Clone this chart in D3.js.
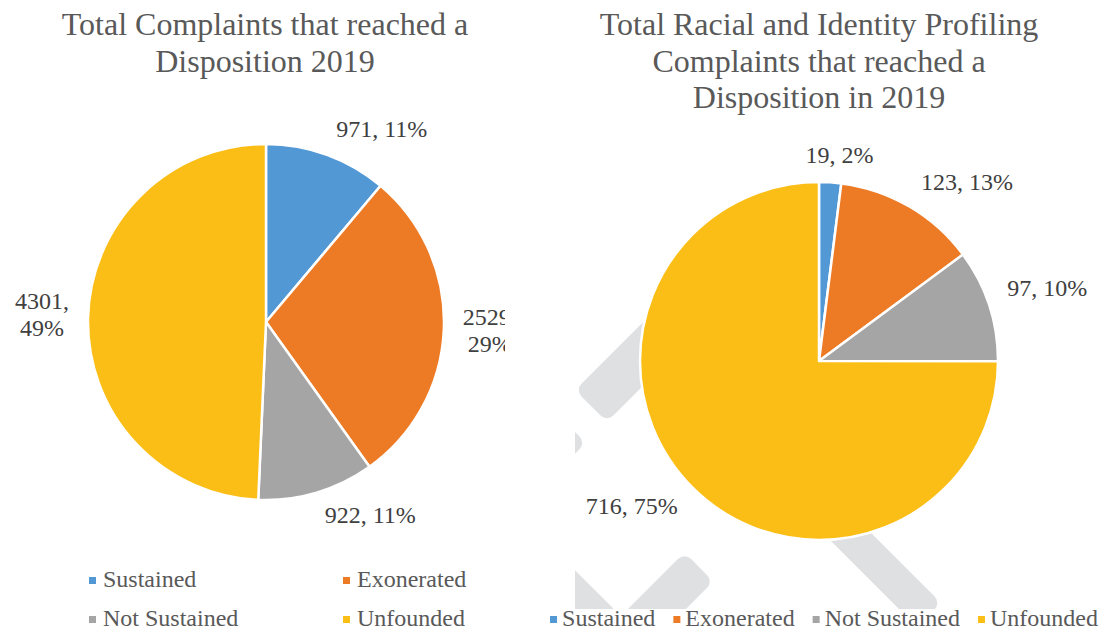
<!DOCTYPE html>
<html>
<head>
<meta charset="utf-8">
<script src="https://cdn.jsdelivr.net/npm/d3@7"></script>
<style>
  html, body { margin: 0; padding: 0; background: #ffffff; }
  svg { display: block; }
  text { font-family: "Liberation Serif", "Times New Roman", "DejaVu Serif", serif; }
</style>
</head>
<body>
<svg id="chart" width="1099" height="630"></svg>
<script>
// ---------------- data ----------------
const categories = ["Sustained", "Exonerated", "Not Sustained", "Unfounded"];
const totalValues = [971, 2529, 922, 4301];
const racialValues = [19, 123, 97, 716];
const sliceColors = ["#5298D4", "#ED7B26", "#A5A5A5", "#FBBE16"];
const titleLeft = ["Total Complaints that reached a", "Disposition 2019"];
const titleRight = ["Total Racial and Identity Profiling", "Complaints that reached a", "Disposition in 2019"];

// ---------------- layout ----------------
const svg = d3.select("#chart");
const defs = svg.append("defs");
defs.append("clipPath").attr("id", "clipLeft")
  .append("rect").attr("x", 0).attr("y", 0).attr("width", 505).attr("height", 630);
defs.append("clipPath").attr("id", "clipRight")
  .append("rect").attr("x", 575).attr("y", 0).attr("width", 524).attr("height", 630);
defs.append("clipPath").attr("id", "clipWatermark")
  .append("rect").attr("x", 575).attr("y", 0).attr("width", 524).attr("height", 609);

const color = d3.scaleOrdinal().domain(categories).range(sliceColors);

// decorative watermark behind right chart
const wm = svg.append("g").attr("clip-path", "url(#clipWatermark)").attr("fill", "#DFE0E2");
const bands = [
  { x: 591, y: 406, a: -45, len: 150, w: 45 },
  { x: 570, y: 427, a: 135, len: 120, w: 45 },
  { x: 530, y: 557, a: 45, len: 150, w: 45 },
  { x: 699, y: 567, a: 135, len: 150, w: 41 },
  { x: 929, y: 615, a: -135, len: 200, w: 34 }
];
wm.selectAll("rect").data(bands).join("rect")
  .attr("transform", d => `translate(${d.x},${d.y}) rotate(${d.a})`)
  .attr("x", 0).attr("y", d => -d.w / 2)
  .attr("width", d => d.len).attr("height", d => d.w)
  .attr("rx", 9).attr("ry", 9);

function drawPie(opts) {
  const { values, cx, cy, r, title, titleX, clipId, bounds } = opts;
  const g = svg.append("g");
  const sum = d3.sum(values);
  const pie = d3.pie().sort(null).value(d => d);
  const arcs = pie(values);
  const arc = d3.arc().innerRadius(0).outerRadius(r);

  // title
  const t = g.append("text")
    .attr("x", titleX).attr("y", 35)
    .attr("text-anchor", "middle")
    .attr("font-size", 32).attr("fill", "#595959");
  title.forEach((line, i) => {
    t.append("tspan").attr("x", titleX).attr("dy", i === 0 ? 0 : 36.5).text(line);
  });

  // slices
  g.append("g").attr("transform", `translate(${cx},${cy})`)
    .selectAll("path").data(arcs).join("path")
    .attr("d", arc)
    .attr("fill", (d, i) => color(categories[i]))
    .attr("stroke", "#ffffff").attr("stroke-width", 2.5).attr("stroke-linejoin", "round");

  // labels (outside end, best-fit style)
  const lg = g.append("g").attr("clip-path", `url(#${clipId})`);
  const fs = 24, lineH = 27, glyphH = 20, gap = 15;
  const clamp = v => Math.max(-1, Math.min(1, v));
  arcs.forEach((d, i) => {
    const pct = Math.round(d.value / sum * 100) + "%";
    const full = d.value + ", " + pct;
    const mid = (d.startAngle + d.endAngle) / 2;
    const sx = Math.sin(mid), sy = -Math.cos(mid);
    const ax = cx + sx * (r + gap), ay = cy + sy * (r + gap);
    const txt = lg.append("text").attr("text-anchor", "middle")
      .attr("font-size", fs).attr("fill", "#404040");
    const probe = txt.append("tspan").text(full);
    let w = probe.node().getComputedTextLength();
    let lines = [full];
    const fx = clamp(sx * 3.5), fy = clamp(sy * 3.5);
    let bx = ax + fx * w / 2;
    if (bx - w / 2 < bounds[0] || bx + w / 2 > bounds[1]) {
      lines = [d.value + ",", pct];
      probe.text(lines[0]);
      const w1 = probe.node().getComputedTextLength();
      probe.text(lines[1]);
      const w2 = probe.node().getComputedTextLength();
      w = Math.max(w1, w2);
    }
    probe.remove();
    const h = glyphH + lineH * (lines.length - 1);
    const bcx = ax + fx * (w / 2 + 4);
    const bcy = ay + fy * h / 2;
    const top = bcy - h / 2;
    lines.forEach((ln, k) => {
      txt.append("tspan").attr("x", bcx).attr("y", top + 16 + k * lineH).text(ln);
    });
  });
  return g;
}

drawPie({ values: totalValues, cx: 266, cy: 322, r: 178, title: titleLeft, titleX: 265,
  clipId: "clipLeft", bounds: [8, 505] });
drawPie({ values: racialValues, cx: 819, cy: 361, r: 179, title: titleRight, titleX: 819,
  clipId: "clipRight", bounds: [575, 1099] });

// ---------------- legends ----------------
const legFs = 24, mk = 7;
// left legend: 2 x 2 grid
const leftCols = [89, 343], leftRows = [587, 626];
const legL = svg.append("g");
categories.forEach((c, i) => {
  const x = leftCols[i % 2], y = leftRows[Math.floor(i / 2)];
  legL.append("rect").attr("x", x).attr("y", y - 10).attr("width", mk).attr("height", mk)
    .attr("fill", color(c));
  legL.append("text").attr("x", x + 14).attr("y", y)
    .attr("font-size", legFs).attr("fill", "#595959").text(c);
});

// right legend: single row, centered
const legR = svg.append("g");
const legY = 626;
const items = categories.map(c => {
  const gi = legR.append("g");
  gi.append("rect").attr("x", 0).attr("y", legY - 10).attr("width", mk).attr("height", mk)
    .attr("fill", color(c));
  const tx = gi.append("text").attr("x", 12).attr("y", legY)
    .attr("font-size", legFs).attr("fill", "#595959").text(c);
  return { g: gi, w: 12 + tx.node().getComputedTextLength() };
});
const spacing = 18;
const totalW = d3.sum(items, d => d.w) + spacing * (items.length - 1);
let xPos = 824 - totalW / 2;
items.forEach(it => {
  it.g.attr("transform", `translate(${xPos},0)`);
  xPos += it.w + spacing;
});
</script>
</body>
</html>
